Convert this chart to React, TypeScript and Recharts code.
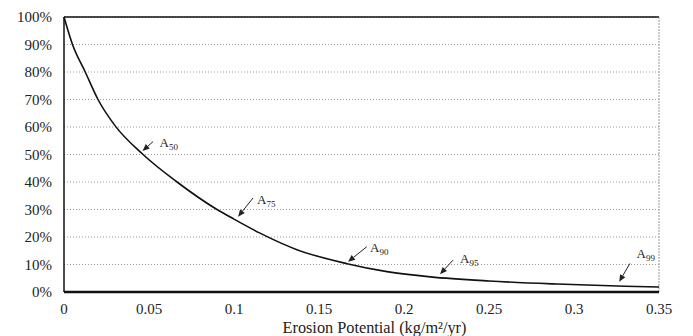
import React from 'react';
import { LineChart, Line, XAxis, YAxis, CartesianGrid, ReferenceLine, ReferenceDot } from 'recharts';

const erosionX = [0, 0.005, 0.0125, 0.02, 0.03, 0.0465, 0.0665, 0.09, 0.1, 0.115, 0.137, 0.1665, 0.19, 0.2155, 0.25, 0.29, 0.33, 0.35];
const percentY = [100, 90, 80, 70, 60.5, 50, 40, 30, 26.5, 21.5, 15.4, 10.3, 7.4, 5.5, 4.0, 2.9, 2.1, 1.8];

const xTicks = [0, 0.05, 0.1, 0.15, 0.2, 0.25, 0.3, 0.35];
const yTicks = [0, 10, 20, 30, 40, 50, 60, 70, 80, 90, 100];

const annSub = ['50', '75', '90', '95', '99'];
const annX = [0.0462, 0.1024, 0.1671, 0.2212, 0.3266];
const annY = [51.3, 27.4, 11.0, 6.5, 3.7];

// arrow tail offset, label offset (px) – styling only
const annStyle = [
  { tx: 10.5, ty: -9.3, lx: 17, ly: -4 },
  { tx: 15, ty: -18.7, lx: 19, ly: -12.7 },
  { tx: 18.7, ty: -15, lx: 22, ly: -10 },
  { tx: 13, ty: -14, lx: 20, ly: -11 },
  { tx: 10.7, ty: -18.4, lx: 17.4, ly: -23.7 },
];

const data = erosionX.map((x, i) => ({ x, y: percentY[i] }));

const FONT = "'Times New Roman', 'Liberation Serif', Times, serif";

function Annotation(props: any) {
  const { cx, cy, idx } = props;
  const s = annStyle[idx];
  const tx = cx + s.tx;
  const ty = cy + s.ty;
  const dx = cx - tx;
  const dy = cy - ty;
  const len = Math.sqrt(dx * dx + dy * dy);
  const ux = dx / len;
  const uy = dy / len;
  const hl = 7;
  const hw = 3;
  const bx = cx - ux * hl;
  const by = cy - uy * hl;
  const p1 = `${cx},${cy}`;
  const p2 = `${bx - uy * hw},${by + ux * hw}`;
  const p3 = `${bx + uy * hw},${by - ux * hw}`;
  return (
    <g>
      <line x1={tx} y1={ty} x2={bx} y2={by} stroke="#222" strokeWidth={1} />
      <polygon points={`${p1} ${p2} ${p3}`} fill="#222" />
      <text x={cx + s.lx} y={cy + s.ly} style={{ fontFamily: FONT }} fontSize={13} fill="#222">
        A
        <tspan fontSize={9} dy={3}>{annSub[idx]}</tspan>
      </text>
    </g>
  );
}

function XTick(props: any) {
  const { x, y, payload } = props;
  return (
    <text x={x} y={y + 22} textAnchor="middle" style={{ fontFamily: FONT }} fontSize={15} fill="#222">
      {String(payload.value)}
    </text>
  );
}

function YTick(props: any) {
  const { x, y, payload } = props;
  return (
    <text x={x} y={y + 5} textAnchor="end" style={{ fontFamily: FONT }} fontSize={15} fill="#222">
      {`${payload.value}%`}
    </text>
  );
}

function XLabel(props: any) {
  const { viewBox } = props;
  const cx = viewBox.x + viewBox.width / 2;
  return (
    <text x={cx + 13} y={333} textAnchor="middle" style={{ fontFamily: FONT }} fontSize={16.3} fill="#222">
      Erosion Potential (kg/m²/yr)
    </text>
  );
}

export default function App() {
  return (
    <div style={{ position: 'absolute', left: 0, top: 0, background: '#fff', fontFamily: FONT }}>
      <LineChart width={693} height={336} data={data} margin={{ top: 17, right: 34, bottom: 0, left: 0 }} style={{ fontFamily: FONT }}>
        <CartesianGrid vertical={false} stroke="#999" strokeDasharray="1 2" />
        <XAxis
          type="number"
          dataKey="x"
          domain={[0, 0.35]}
          ticks={xTicks}
          height={44}
          tickLine={false}
          tickSize={0}
          tickMargin={0}
          axisLine={{ stroke: '#111', strokeWidth: 2.5 }}
          tick={<XTick />}
          label={<XLabel />}
        />
        <YAxis
          type="number"
          domain={[0, 100]}
          ticks={yTicks}
          width={64}
          tickLine={false}
          tickSize={6}
          tickMargin={6}
          axisLine={{ stroke: '#111', strokeWidth: 1.5 }}
          tick={<YTick />}
        />
        <ReferenceLine y={100} stroke="#111" strokeWidth={1.5} />
        <ReferenceLine x={0.35} stroke="#999" strokeWidth={1} strokeDasharray="2 1" />
        <Line type="monotone" dataKey="y" stroke="#111" strokeWidth={1.6} dot={false} isAnimationActive={false} />
        {annSub.map((s, i) => (
          <ReferenceDot
            key={s}
            x={annX[i]}
            y={annY[i]}
            r={3}
            ifOverflow="visible"
            shape={(p: any) => <Annotation cx={p.cx} cy={p.cy} idx={i} />}
          />
        ))}
      </LineChart>
    </div>
  );
}
